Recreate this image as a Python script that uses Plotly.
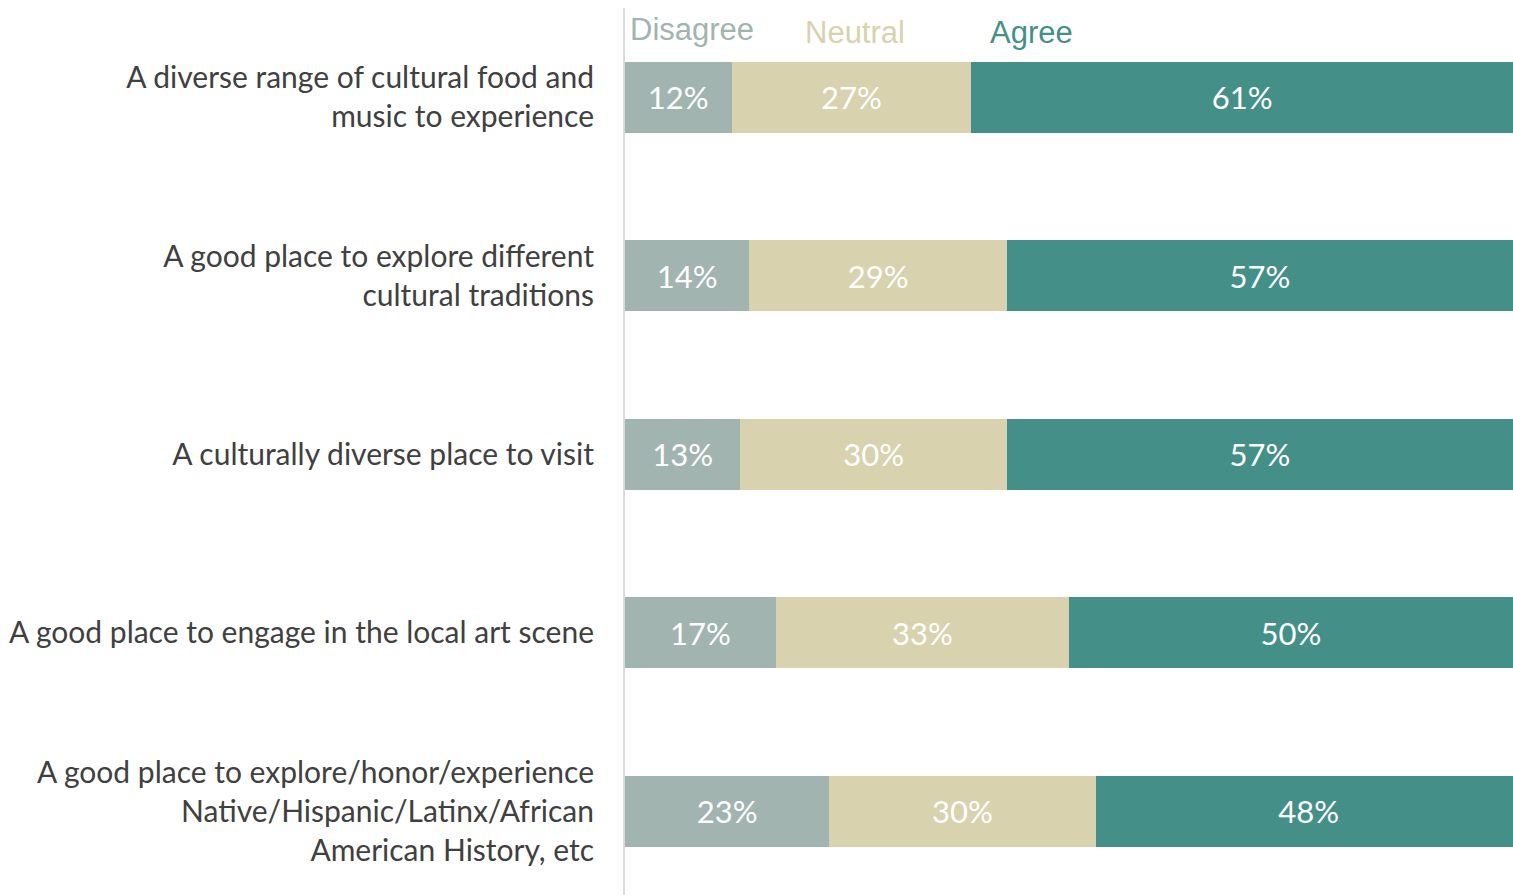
import plotly.graph_objects as go

# Survey statements (top to bottom) and response shares in percent
statements = [
    "A diverse range of cultural food and<br>music to experience",
    "A good place to explore different<br>cultural traditions",
    "A culturally diverse place to visit",
    "A good place to engage in the local art scene",
    "A good place to explore/honor/experience<br>Native/Hispanic/Latinx/African<br>American History, etc",
]
disagree = [12, 14, 13, 17, 23]
neutral = [27, 29, 30, 33, 30]
agree = [61, 57, 57, 50, 48]

series_names = ["Disagree", "Neutral", "Agree"]
series_colors = ["#A1B4AF", "#D8D2AE", "#458F89"]
series_values = [disagree, neutral, agree]

W, H = 1513, 895
M_L, M_R, M_T, M_B = 625, 0, 8, 0
plot_w = W - M_L - M_R
plot_h = H - M_T - M_B

fig = go.Figure()
for name, color, vals in zip(series_names, series_colors, series_values):
    fig.add_trace(go.Bar(
        y=statements,
        x=vals,
        name=name,
        orientation="h",
        marker=dict(color=color, line=dict(width=0)),
        width=0.4,
        texttemplate="%{x}%",
        textposition="inside",
        insidetextanchor="middle",
        textangle=0,
        textfont=dict(family="Lato, sans-serif", size=31, color="white"),
        showlegend=False,
    ))

# Colored text key across the top of the bars
key_x = [628, 803, 988]
key_y = [30, 32, 32]
for name, color, px, py in zip(series_names, series_colors, key_x, key_y):
    fig.add_annotation(
        x=(px - M_L) / plot_w, y=1 - (py - M_T) / plot_h,
        xref="paper", yref="paper",
        text=name, showarrow=False,
        xanchor="left", yanchor="middle",
        font=dict(family="Liberation Sans, Arial, sans-serif", size=31, color=color),
    )

# one category step = 178.5 px
unit = 178.5
y_top = -0.5
y_bottom = y_top + plot_h / unit

fig.update_layout(
    barmode="stack",
    width=W, height=H,
    margin=dict(l=M_L, r=M_R, t=M_T, b=M_B, pad=0),
    paper_bgcolor="white",
    plot_bgcolor="white",
    font=dict(family="Lato, sans-serif", color="#404040"),
    uniformtext=dict(mode=False),
)
fig.update_xaxes(
    range=[0, 100],
    showgrid=False, zeroline=False, showticklabels=False, showline=False,
    fixedrange=True,
)
fig.update_yaxes(
    type="category",
    range=[y_bottom, y_top],
    showgrid=False, zeroline=False,
    showline=True, linecolor="#D9D9D9", linewidth=2,
    ticks="", ticklabelstandoff=23,
    tickfont=dict(family="Lato, sans-serif", size=30, color="#404040"),
    fixedrange=True,
)

fig.write_html("out.html")
